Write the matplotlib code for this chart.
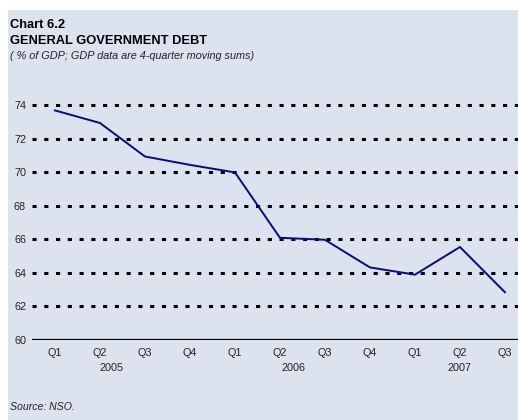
import matplotlib.pyplot as plt
from matplotlib.patches import Rectangle

quarters = ["Q1", "Q2", "Q3", "Q4", "Q1", "Q2", "Q3", "Q4", "Q1", "Q2", "Q3"]
debt = [73.7, 72.95, 70.95, 70.45, 70.0, 66.1, 65.98, 64.33, 63.9, 65.55, 62.85]
years = ["2005", "2006", "2007"]
year_pos = [1.25, 5.3, 9.0]
yticks = [60, 62, 64, 66, 68, 70, 72, 74]

plt.rcParams['font.family'] = ['Liberation Sans', 'DejaVu Sans']

fig = plt.figure(figsize=(5.18, 4.2), dpi=100)
fig.patch.set_facecolor("white")
bg = "#dce2ee"
fig.patches.append(Rectangle((8 / 518, 0), 1, 1 - 10 / 420, transform=fig.transFigure,
                             facecolor=bg, edgecolor="none", zorder=-1))

ax = fig.add_axes([32 / 518, 1 - 340 / 420, 1 - 32 / 518, (340 - 97) / 420])
ax.set_facecolor("none")
x = list(range(len(debt)))
ax.plot(x, debt, color="#0a0a80", lw=1.4, zorder=3)

ax.set_xlim(-0.51, 10.29)
ax.set_ylim(60, 74.5)
for v in yticks[1:]:
    ax.axhline(v, color="black", lw=2.2, linestyle=(0, (1.35, 2.5)), zorder=1)
ax.axhline(60, color="black", lw=1.6, zorder=2)

for s in ax.spines.values():
    s.set_visible(False)
ax.set_yticks(yticks)
ax.set_yticklabels([str(v) for v in yticks])
ax.set_xticks(x)
ax.set_xticklabels(quarters)
ax.tick_params(axis="both", length=0, labelsize=7.8, colors="#222222")
ax.tick_params(axis="y", pad=4.3)
ax.tick_params(axis="x", pad=5.5)
for p, yr in zip(year_pos, years):
    ax.text(p, -0.115, yr, transform=ax.get_xaxis_transform(), ha="center", va="center",
            fontsize=7.8, color="#222222")

fig.text(10 / 518, 1 - 25 / 420, "Chart 6.2", fontsize=9.3, fontweight="bold", va="center")
fig.text(10 / 518, 1 - 41 / 420, "GENERAL GOVERNMENT DEBT", fontsize=9.3, fontweight="bold", va="center")
fig.text(10 / 518, 1 - 56 / 420, "( % of GDP; GDP data are 4-quarter moving sums)", fontsize=7.8,
         style="italic", va="center", color="#222222")
fig.text(10 / 518, 1 - 407 / 420, "Source: NSO.", fontsize=7.6, style="italic", va="center", color="#222222")

fig.savefig("out.png", dpi=100)
